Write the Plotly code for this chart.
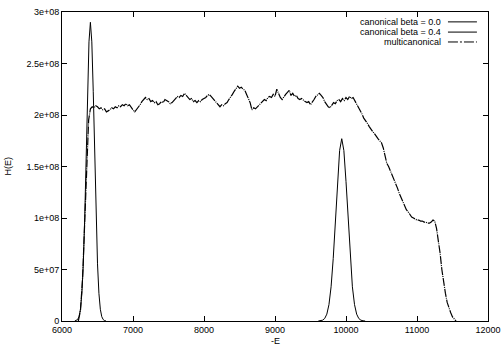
import plotly.graph_objects as go

# canonical beta = 0.0 (peak near 6400)
e_can0 = [6180, 6200, 6220, 6240, 6260, 6280, 6300, 6320, 6340, 6360, 6380, 6400,
          6420, 6440, 6460, 6480, 6500, 6520, 6540, 6560, 6580, 6600, 6620]
h_can0 = [0.0, 0.004, 0.014, 0.042, 0.114, 0.269, 0.555, 1.006, 1.60, 2.23, 2.71, 2.90,
          2.71, 2.23, 1.60, 1.006, 0.555, 0.269, 0.114, 0.042, 0.014, 0.004, 0.0]

# canonical beta = 0.4 (peak near 9940)
e_can4 = [9610, 9640, 9670, 9700, 9730, 9760, 9790, 9820, 9850, 9880, 9910, 9940,
          9970, 10000, 10030, 10060, 10090, 10120, 10150, 10180, 10210, 10240, 10270]
h_can4 = [0.0, 0.0022, 0.0078, 0.0244, 0.0667, 0.159, 0.332, 0.607, 0.969, 1.354, 1.655, 1.77,
          1.655, 1.354, 0.969, 0.607, 0.332, 0.159, 0.0667, 0.0244, 0.0078, 0.0022, 0.0]

# multicanonical
e_muca = [6230, 6260, 6290, 6320, 6350, 6375] + list(range(6400, 11575, 25))
h_muca = [0.0, 0.10, 0.42, 0.95, 1.55, 1.95,
    2.06, 2.08, 2.07, 2.09, 2.08, 2.06, 2.07, 2.05, 2.06, 2.03,
    2.04, 2.05, 2.07, 2.06, 2.08, 2.07, 2.09, 2.08, 2.10, 2.09,
    2.11, 2.09, 2.10, 2.07, 2.05, 2.03, 2.05, 2.08, 2.10, 2.13,
    2.15, 2.17, 2.15, 2.16, 2.13, 2.14, 2.12, 2.13, 2.10, 2.11,
    2.13, 2.12, 2.15, 2.14, 2.13, 2.11, 2.12, 2.14, 2.16, 2.18,
    2.17, 2.19, 2.18, 2.21, 2.19, 2.17, 2.15, 2.16, 2.13, 2.14,
    2.12, 2.14, 2.13, 2.15, 2.16, 2.17, 2.19, 2.20, 2.18, 2.16,
    2.14, 2.12, 2.09, 2.08, 2.10, 2.09, 2.11, 2.12, 2.15, 2.17,
    2.20, 2.23, 2.25, 2.28, 2.26, 2.27, 2.25, 2.24, 2.20, 2.16,
    2.12, 2.05, 2.07, 2.06, 2.08, 2.10, 2.12, 2.13, 2.15, 2.14,
    2.17, 2.18, 2.17, 2.20, 2.18, 2.25, 2.20, 2.17, 2.15, 2.18,
    2.20, 2.22, 2.24, 2.19, 2.21, 2.18, 2.19, 2.16, 2.15, 2.16,
    2.14, 2.13, 2.12, 2.13, 2.10, 2.12, 2.15, 2.18, 2.20, 2.21,
    2.19, 2.17, 2.13, 2.10, 2.08, 2.07, 2.10, 2.12, 2.11, 2.14,
    2.15, 2.13, 2.16, 2.14, 2.17, 2.15, 2.18, 2.16, 2.17, 2.14,
    2.11, 2.07, 2.04, 2.01, 1.97, 1.95, 1.92, 1.89, 1.86, 1.84,
    1.82, 1.79, 1.77, 1.75, 1.73, 1.68, 1.60, 1.53, 1.50, 1.46,
    1.41, 1.38, 1.33, 1.29, 1.24, 1.20, 1.16, 1.12, 1.08, 1.06,
    1.03, 1.01, 1.00, 0.99, 0.98, 0.98, 0.97, 0.97, 0.96, 0.96,
    0.95, 0.95, 0.96, 0.98, 0.97, 0.90, 0.80, 0.66, 0.50, 0.37,
    0.27, 0.18, 0.12, 0.08, 0.04, 0.02, 0.00]

scale = 1e8

y_tickvals = [0, 0.5e8, 1e8, 1.5e8, 2e8, 2.5e8, 3e8]
y_ticktext = ["0", "5e+07", "1e+08", "1.5e+08", "2e+08", "2.5e+08", "3e+08"]
x_tickvals = [6000, 7000, 8000, 9000, 10000, 11000, 12000]
x_ticktext = ["6000", "7000", "8000", "9000", "10000", "11000", "12000"]

names = ["canonical beta = 0.0", "canonical beta = 0.4", "multicanonical"]
dashes = ["solid", "solid", "8px,1px,1px,1px"]

FONT = "Liberation Sans"
FS = 9

fig = go.Figure()
fig.add_trace(go.Scatter(x=e_can0, y=[v * scale for v in h_can0], mode="lines",
                         name=names[0], line=dict(color="black", width=1, dash=dashes[0])))
fig.add_trace(go.Scatter(x=e_can4, y=[v * scale for v in h_can4], mode="lines",
                         name=names[1], line=dict(color="black", width=1, dash=dashes[1])))
fig.add_trace(go.Scatter(x=e_muca, y=[v * scale for v in h_muca], mode="lines",
                         name=names[2], line=dict(color="black", width=1.2, dash=dashes[2])))

# gnuplot-style key: right-aligned text followed by line sample
key_y = [0.968, 0.935, 0.903]
key_dash = ["solid", "solid", "10px,2px,2px,2px"]
for name, dash, ky in zip(names, key_dash, key_y):
    fig.add_annotation(x=0.894, y=ky, xref="paper", yref="paper", text=name,
                       showarrow=False, xanchor="right", yanchor="middle",
                       font=dict(family=FONT, size=FS, color="black"))
    fig.add_shape(type="line", xref="paper", yref="paper", x0=0.906, x1=0.974,
                  y0=ky, y1=ky, line=dict(color="black", width=1, dash=dash))

# axis titles placed like gnuplot
fig.add_annotation(x=-0.129, y=0.5, xref="paper", yref="paper", text="H(E)",
                   textangle=-90, showarrow=False, xanchor="center", yanchor="middle",
                   font=dict(family=FONT, size=FS, color="black"))
fig.add_annotation(x=0.5, y=-0.066, xref="paper", yref="paper", text="-E",
                   showarrow=False, xanchor="center", yanchor="middle",
                   font=dict(family=FONT, size=FS, color="black"))

axis_common = dict(showgrid=False, zeroline=False, showline=True, linecolor="black",
                   linewidth=1, mirror="ticks", ticks="inside", ticklen=5,
                   tickcolor="black", automargin=False,
                   tickfont=dict(family=FONT, size=FS, color="black"))

fig.update_xaxes(range=[6000, 12000], tickvals=x_tickvals, ticktext=x_ticktext, **axis_common)
fig.update_yaxes(range=[0, 3e8], tickvals=y_tickvals, ticktext=y_ticktext, **axis_common)

fig.update_layout(width=501, height=351, showlegend=False,
                  margin=dict(l=62, r=13, t=12, b=30),
                  paper_bgcolor="white", plot_bgcolor="white",
                  font=dict(family=FONT, size=FS, color="black"))

fig.write_html("out.html", config={"displayModeBar": False},
               post_script="document.body.style.margin='0';document.body.style.padding='0';")
